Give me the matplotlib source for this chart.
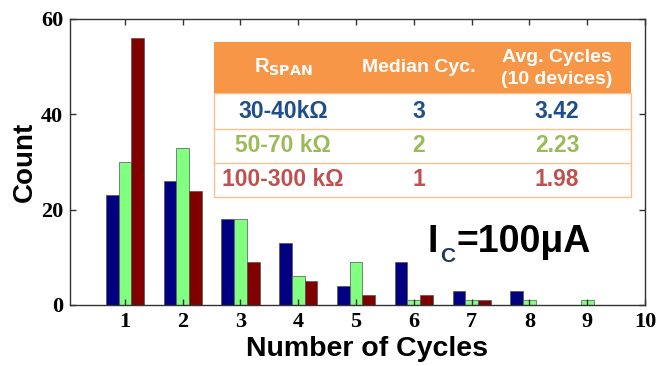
import matplotlib
matplotlib.use('Agg')
import matplotlib.pyplot as plt
import numpy as np
from matplotlib.patches import Rectangle
from matplotlib.lines import Line2D

cycles = [1, 2, 3, 4, 5, 6, 7, 8, 9]
count_30_40 = [23, 26, 18, 13, 4, 9, 3, 3, 0]
count_50_70 = [30, 33, 18, 6, 9, 1, 1, 1, 1]
count_100_300 = [56, 24, 9, 5, 2, 2, 1, 0, 0]

rspan_labels = ['30-40kΩ', '50-70 kΩ', '100-300 kΩ']
median_cyc = ['3', '2', '1']
avg_cycles = ['3.42', '2.23', '1.98']
row_colors = ['#1F4E8C', '#9BBB59', '#C0504D']

W, H = 659, 366
fig = plt.figure(figsize=(W / 100, H / 100), dpi=100)
ax = fig.add_axes([70 / W, 1 - 305 / H, (645 - 70) / W, (305 - 19) / H])

x = np.array(cycles)
bw = 0.22
ax.bar(x - bw, count_30_40, bw, color='#000080', edgecolor='#555555', linewidth=0.5)
ax.bar(x, count_50_70, bw, color='#80FF80', edgecolor='#555555', linewidth=0.5)
ax.bar(x + bw, count_100_300, bw, color='#800000', edgecolor='#555555', linewidth=0.5)

ax.set_xlim(0.05, 10)
ax.set_ylim(0, 60)
ax.set_xticks(range(1, 11))
ax.set_yticks([0, 20, 40, 60])
ax.tick_params(direction='in', top=True, right=True, length=4, width=1, color='#333333', pad=5)
for lab in ax.get_xticklabels() + ax.get_yticklabels():
    lab.set_fontfamily('Liberation Serif')
    lab.set_fontweight('bold')
    lab.set_fontsize(16)
for s in ax.spines.values():
    s.set_color('#333333')
    s.set_linewidth(1)

ax.set_xlabel('Number of Cycles', fontsize=20.5, fontweight='bold', family='Liberation Sans')
ax.set_ylabel('Count', fontsize=20, fontweight='bold', family='Liberation Sans', labelpad=2)
ax.xaxis.set_label_coords(0.517, -0.108)


def fx(px):
    return px / W


def fy(py):
    return 1 - py / H


# table overlay
left, right = 214, 631
tab_y = [42, 93, 129, 163, 197]
fig.add_artist(Rectangle((fx(left), fy(tab_y[-1])), fx(right) - fx(left), fy(tab_y[1]) - fy(tab_y[-1]),
                         transform=fig.transFigure, facecolor='white', edgecolor='#FAC090', linewidth=1, zorder=5))
fig.add_artist(Rectangle((fx(left), fy(tab_y[1])), fx(right) - fx(left), fy(tab_y[0]) - fy(tab_y[1]),
                         transform=fig.transFigure, facecolor='#F79646', edgecolor='none', zorder=6))
for yy in tab_y[2:4]:
    fig.add_artist(Line2D([fx(left), fx(right)], [fy(yy), fy(yy)], transform=fig.transFigure,
                          color='#FAC090', linewidth=1, zorder=6))

col_x = [283, 419, 557]
hdr = dict(color='white', fontweight='bold', family='Liberation Sans', ha='center', va='center', zorder=7)
fig.text(fx(col_x[0]), fy(67), r'R$_{\mathbf{SPAN}}$', fontsize=14.5, **hdr)
fig.text(fx(col_x[1]), fy(68), 'Median Cyc.', fontsize=14, **hdr)
fig.text(fx(col_x[2]), fy(57), 'Avg. Cycles', fontsize=14, **hdr)
fig.text(fx(col_x[2]), fy(80), '(10 devices)', fontsize=14, **hdr)

row_y = [112, 146, 180]
for i in range(3):
    kw = dict(color=row_colors[i], fontweight='bold', family='Liberation Sans', ha='center', va='center',
              fontsize=16.5, zorder=7)
    fig.text(fx(col_x[0]), fy(row_y[i]), rspan_labels[i], **kw)
    fig.text(fx(col_x[1]), fy(row_y[i]), median_cyc[i], **kw)
    fig.text(fx(col_x[2]), fy(row_y[i]), avg_cycles[i], **kw)

# I_C annotation
big = dict(fontweight='bold', family='Liberation Sans', va='baseline', ha='left', zorder=7)
fig.text(fx(428), fy(252), 'I', fontsize=27, color='black', **big)
fig.text(fx(440), fy(262), 'C', fontsize=15, color='#1F3A6A', **big)
fig.text(fx(456), fy(252), '=100μA', fontsize=27, color='black', **big)

plt.savefig('out.png', dpi=100)
